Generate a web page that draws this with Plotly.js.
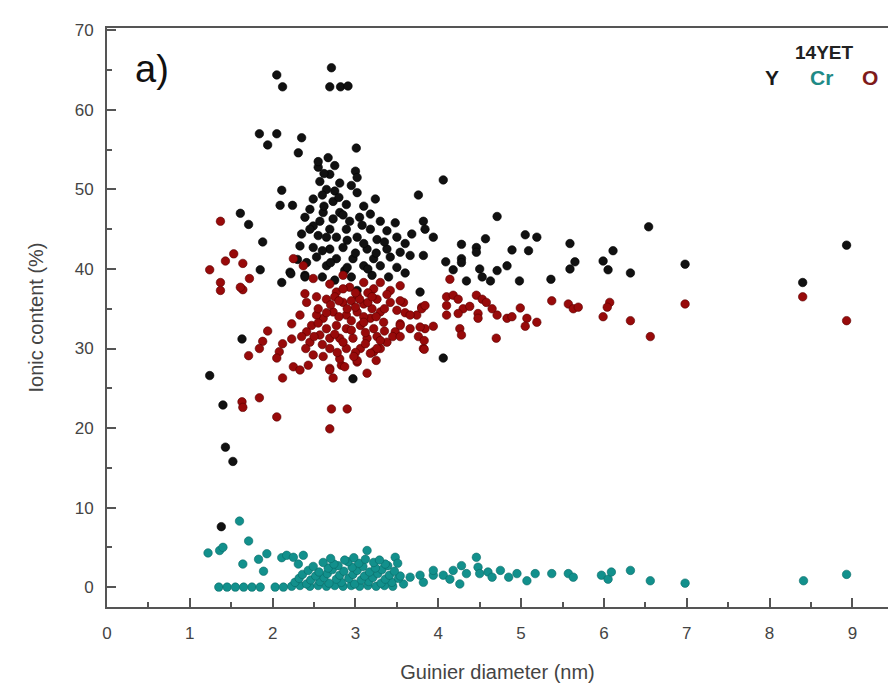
<!DOCTYPE html>
<html>
<head>
<meta charset="utf-8">
<script src="https://cdn.plot.ly/plotly-3.0.1.min.js"></script>
<style>html,body{margin:0;padding:0;background:#fff;}#chart{width:888px;height:696px;}</style>
</head>
<body>
<div id="chart"></div>
<script>
// Y (black)
const yX = [2.05,2.12,2.71,2.69,2.82,2.91,1.84,2.05,1.94,2.35,2.31,3.01,2.67,2.55,3.0,2.69,3.02,2.57,2.81,
  2.11,2.09,2.24,1.61,1.71,1.88,1.85,3.76,2.65,3.02,3.24,2.49,2.73,2.89,3.10,2.45,2.61,2.81,3.18,2.39,2.57,2.73,2.93,3.30,3.48,3.82,
  2.49,2.69,2.89,3.18,3.38,3.84,2.35,2.55,2.77,3.02,3.26,3.50,3.68,2.33,2.49,2.69,2.85,3.14,3.38,3.54,
  2.53,2.77,2.97,3.22,3.42,3.66,3.82,2.41,2.65,3.10,3.30,3.50,2.21,2.11,2.39,2.87,3.78,2.22,2.39,1.63,1.24,1.40,1.43,1.52,2.97,
  4.06,4.71,3.94,4.28,4.57,4.46,5.05,5.19,4.09,4.28,4.46,4.89,5.09,5.59,6.11,4.18,4.28,4.50,4.34,4.53,4.63,4.71,4.83,4.98,5.36,5.65,5.59,5.99,6.05,6.32,6.54,4.06,
  6.98,8.40,8.93,3.02,1.38,2.60,2.75,2.95,3.20,3.40,3.60,
  2.60,2.75,2.95,2.62,2.85,3.05,2.65,2.90,3.10,2.60,3.00,3.25,2.70,2.90,3.15,2.55,2.75,2.62,2.80,3.08,2.45,3.35,3.60,2.30];
const yY = [64.4,62.9,65.3,62.9,62.9,63.0,57.0,57.0,55.6,56.5,54.6,55.2,54.0,52.8,52.3,51.9,51.5,51.0,50.8,
  49.9,48.0,48.0,47.0,45.6,43.4,39.9,49.3,50.0,49.6,48.8,48.8,48.5,48.1,47.9,47.5,47.1,47.1,46.9,46.5,46.0,46.3,46.0,46.0,45.8,46.0,
  45.4,45.0,45.0,45.0,44.8,45.0,44.4,44.2,44.0,44.0,43.7,44.0,44.4,42.9,42.7,42.5,42.7,42.5,42.5,42.1,
  41.5,41.3,41.3,41.3,41.5,41.7,41.7,40.8,40.4,40.4,40.4,40.2,39.6,38.3,39.2,39.8,37.1,39.4,39.0,31.2,26.6,22.9,17.6,15.8,26.2,
  51.2,46.6,44.0,43.1,43.8,42.7,44.3,44.0,40.9,41.3,42.1,42.4,42.3,43.2,42.3,39.9,40.8,40.0,38.5,39.0,38.5,39.8,40.4,38.5,38.7,40.9,40.0,41.0,39.9,39.5,45.3,28.8,
  40.6,38.3,43.0,37.3,7.6,39.0,38.6,39.0,39.2,39.0,39.5,
  49.3,49.8,50.5,47.9,46.8,46.5,44.0,43.6,43.2,42.3,42.0,42.0,40.8,40.2,40.0,53.5,53.0,52.0,49.0,45.5,45.0,43.4,43.2,41.2];
// O (dark red)
const oX = [1.24,1.43,1.53,1.64,1.37,1.37,1.72,1.64,1.37,1.61,
  1.94,1.88,1.84,1.71,2.12,2.08,2.05,2.23,2.25,2.33,2.12,
  1.63,1.64,1.84,2.05,2.71,2.90,2.69,2.73,2.69,2.49,2.43,2.83,3.02,3.14,3.22,3.30,
  2.23,2.33,2.41,2.53,2.47,2.57,2.45,2.69,2.61,2.81,2.87,2.69,3.02,3.26,3.18,3.38,3.48,3.54,3.50,3.42,3.42,3.22,2.93,2.77,2.65,3.02,2.85,3.10,3.26,3.30,3.18,3.02,2.89,2.73,2.61,2.65,2.77,2.89,3.06,3.22,3.34,2.81,2.97,3.14,3.26,2.89,3.06,2.69,2.53,2.41,3.58,3.74,3.80,3.84,3.66,3.82,3.54,3.30,3.10,
  2.25,2.37,2.49,2.69,2.85,2.39,
  2.95,3.15,2.80,2.95,3.10,3.35,2.70,2.55,3.00,3.20,2.85,3.00,3.45,2.60,3.12,2.75,3.38,3.60,2.50,3.25,
  2.90,3.05,2.80,3.15,2.65,3.25,2.95,3.10,2.75,3.35,2.55,3.00,2.85,3.20,2.40,2.35,2.98,3.30,2.78,3.12,
  3.80,3.84,3.66,3.54,3.78,3.94,3.76,3.83,3.83,3.54,3.54,
  4.14,4.10,4.18,4.24,4.46,4.53,4.58,4.10,4.30,4.38,4.48,4.48,4.65,4.71,4.83,4.89,4.24,4.10,4.99,5.07,5.05,5.19,5.37,5.57,5.63,5.69,4.26,4.28,4.70,
  6.07,6.04,5.99,6.32,6.98,8.40,8.93,6.56];
const oY = [39.9,41.0,41.9,40.7,38.3,37.3,38.8,37.4,46.0,37.7,
  32.2,30.9,30.0,29.1,30.6,29.6,28.8,31.2,27.7,27.3,26.3,
  23.3,22.6,23.8,21.4,22.4,22.4,19.9,26.3,27.5,29.2,27.9,27.9,28.3,26.9,29.6,30.0,
  33.1,34.2,35.8,36.5,32.9,31.7,30.8,30.0,29.0,28.7,27.7,27.3,28.5,30.0,29.4,30.8,32.1,33.1,34.8,35.8,37.3,37.5,37.7,37.1,36.2,36.7,35.8,35.6,36.2,34.6,33.8,34.6,34.2,34.6,33.8,32.5,32.9,32.5,32.9,32.5,33.3,31.3,31.3,31.3,31.5,30.0,30.0,31.3,34.2,32.1,35.8,34.2,35.2,32.5,32.5,30.0,37.9,38.3,38.3,
  41.3,40.4,38.8,38.1,39.2,36.9,
  36.0,37.0,34.0,33.5,34.0,35.0,35.5,35.0,35.2,35.0,30.8,29.5,31.5,30.5,32.0,36.5,36.8,34.5,31.5,28.5,
  35.0,36.2,36.0,35.8,34.5,34.0,32.3,33.3,31.8,32.2,33.2,37.0,37.5,36.5,30.0,31.5,29.0,31.0,29.5,30.6,
  35.0,35.4,34.2,32.9,32.7,32.8,31.5,31.0,29.9,36.0,31.5,
  38.7,36.5,36.7,36.2,36.7,36.2,35.8,35.4,35.0,35.3,34.4,33.8,35.0,34.2,33.8,34.0,34.4,34.2,35.1,33.8,32.8,33.3,36.0,35.6,35.0,35.2,32.5,31.7,31.3,
  35.8,35.2,34.0,33.5,35.6,36.5,33.5,31.5];
// Cr (teal)
const crX = [1.35,1.45,1.55,1.65,1.75,1.85,2.03,2.13,2.23,2.33,2.45,2.55,2.65,2.75,2.85,2.95,3.05,3.15,3.25,3.35,3.45,
  1.22,1.36,1.40,1.60,1.71,1.64,1.83,1.93,1.89,2.11,2.17,2.25,2.37,2.31,
  3.14,3.48,3.66,3.82,3.94,
  2.27,2.41,2.57,2.68,2.83,2.99,3.16,3.31,3.44,3.58,
  2.32,2.46,2.62,2.77,2.92,3.07,3.21,3.36,3.52,
  2.36,2.52,2.66,2.81,2.97,3.11,3.27,3.41,3.54,
  2.43,2.56,2.72,2.86,3.02,3.17,3.32,3.47,
  2.49,2.67,2.79,2.96,3.09,3.24,3.39,
  2.61,2.74,2.91,3.04,3.22,3.36,3.51,
  2.70,2.87,2.98,3.12,3.29,
  3.78,3.94,4.06,4.18,4.28,4.34,4.46,4.48,4.50,4.60,4.65,4.75,4.85,4.95,5.07,5.17,5.37,5.57,5.63,5.97,6.05,6.09,6.32,6.56,6.98,8.41,8.93,4.14,4.26];
const crY = [0,0,0,0,0,0,0,0,0.1,0.2,0.1,0.2,0.1,0.2,0.1,0.2,0.1,0.2,0.1,0.2,0.1,
  4.3,4.6,5.0,8.3,5.8,2.9,3.5,4.2,2.0,3.7,4.0,3.75,4.0,2.9,
  4.6,3.75,1.25,0.6,1.5,
  0.6,0.4,0.7,0.5,0.6,0.4,0.7,0.5,0.6,0.4,
  1.1,0.9,1.2,1.0,1.1,0.9,1.2,1.0,1.1,
  1.6,1.4,1.7,1.5,1.6,1.4,1.7,1.5,1.4,
  2.1,1.9,2.2,2.0,2.1,1.9,2.2,2.0,
  2.6,2.4,2.7,2.5,2.6,2.4,2.7,
  3.1,2.9,3.2,3.0,3.1,2.9,3.0,
  3.6,3.4,3.7,3.5,3.4,
  1.5,2.1,1.5,2.1,2.7,1.7,3.75,2.5,1.7,1.9,1.25,2.1,1.25,1.7,0.8,1.7,1.7,1.7,1.25,1.5,1.0,1.9,2.1,0.8,0.5,0.8,1.6,1.0,0.4];

const xTickVals = [0,1,2,3,4,5,6,7,8,9];
const yTickVals = [0,10,20,30,40,50,60,70];
const xTitle = 'Guinier diameter (nm)';
const yTitle = 'Ionic content (%)';

const mk = (x, y, name, color, edge) => ({
  type: 'scatter', mode: 'markers', x: x, y: y, name: name,
  marker: {size: 8.5, color: color, line: {width: 0.6, color: edge}},
  showlegend: false, hoverinfo: 'skip'
});

const data = [
  mk(yX, yY, 'Y', '#111111', '#000000'),
  mk(oX, oY, 'O', '#980a0a', '#5a0000'),
  mk(crX, crY, 'Cr', '#12908c', '#0a6b68')
];

const font = 'Liberation Sans, Arial, sans-serif';
const layout = {
  width: 888, height: 696,
  margin: {l: 107, r: 0, t: 28, b: 89},
  paper_bgcolor: '#ffffff', plot_bgcolor: '#ffffff',
  font: {family: font, color: '#444', size: 17},
  xaxis: {
    range: [0, 9.43], tickvals: xTickVals, ticktext: xTickVals.map(String),
    ticks: 'inside', ticklen: 9, tickwidth: 2, tickcolor: '#555',
    minor: {dtick: 0.5, tick0: 0, ticks: 'inside', ticklen: 5, tickwidth: 2, tickcolor: '#555'},
    showline: true, linecolor: '#555', linewidth: 2, mirror: true,
    showgrid: false, zeroline: false, ticklabelstandoff: 10,
    title: {text: xTitle, font: {size: 20, color: '#444', family: font}, standoff: 23}
  },
  yaxis: {
    range: [-2.5, 70.3], tickvals: yTickVals, ticktext: yTickVals.map(String),
    ticks: 'inside', ticklen: 9, tickwidth: 2, tickcolor: '#555',
    minor: {dtick: 5, tick0: 0, ticks: 'inside', ticklen: 5, tickwidth: 2, tickcolor: '#555'},
    showline: true, linecolor: '#555', linewidth: 2,
    showgrid: false, zeroline: false, ticklabelstandoff: 8,
    title: {text: yTitle, font: {size: 20, color: '#444', family: font}, standoff: 26}
  },
  annotations: [
    {xref: 'paper', yref: 'paper', x: 0.058, y: 0.93, xanchor: 'center', yanchor: 'middle',
     text: 'a)', showarrow: false, font: {size: 38, color: '#111', family: font}},
    {xref: 'paper', yref: 'paper', x: 0.918, y: 0.958, xanchor: 'center', yanchor: 'middle',
     text: '<b>14YET</b>', showarrow: false, font: {size: 19, color: '#222', family: font}},
    {xref: 'paper', yref: 'paper', x: 0.851, y: 0.914, xanchor: 'center', yanchor: 'middle',
     text: '<b>Y</b>', showarrow: false, font: {size: 21, color: '#1a1a1a', family: font}},
    {xref: 'paper', yref: 'paper', x: 0.915, y: 0.914, xanchor: 'center', yanchor: 'middle',
     text: '<b>Cr</b>', showarrow: false, font: {size: 21, color: '#1f8a86', family: font}},
    {xref: 'paper', yref: 'paper', x: 0.977, y: 0.914, xanchor: 'center', yanchor: 'middle',
     text: '<b>O</b>', showarrow: false, font: {size: 21, color: '#7e1a1a', family: font}}
  ]
};

Plotly.newPlot('chart', data, layout, {displayModeBar: false, staticPlot: true});
</script>
</body>
</html>
